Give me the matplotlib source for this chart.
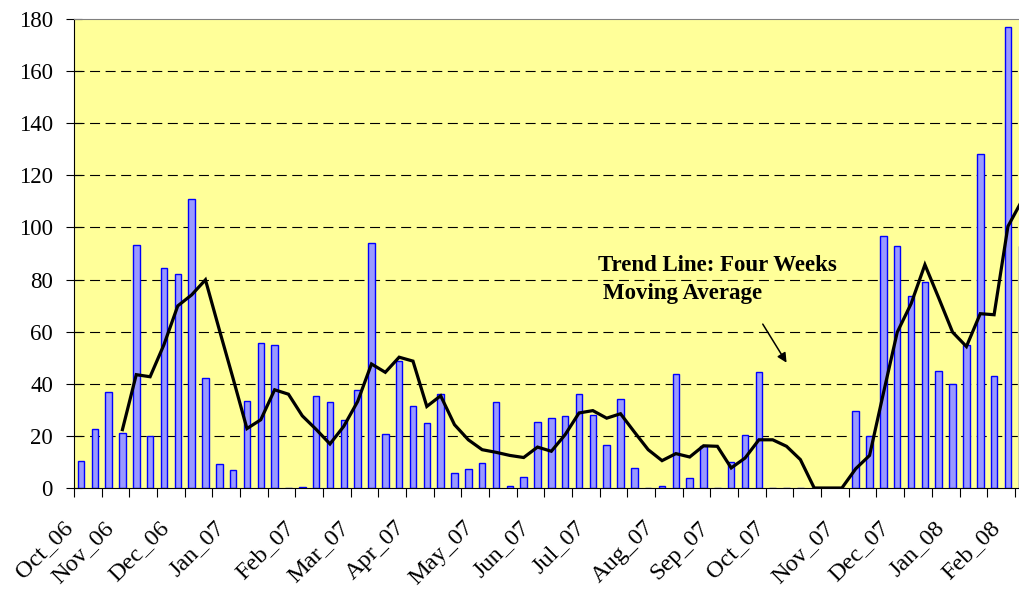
import numpy as np
import matplotlib
matplotlib.use("Agg")
import matplotlib.pyplot as plt
import matplotlib.transforms as mtransforms

plt.rcParams['font.family'] = ['Liberation Serif', 'DejaVu Serif']

# weekly counts, Oct_06 -> Feb_08 (last one is cut off by the plot edge)
weekly = [10.2, 22.8, 36.8, 21.3, 93.1, 20.1, 84.4, 82.1, 110.8, 42.1,
          9.2, 6.8, 33.2, 55.6, 55.0, 0, 0.3, 35.5, 32.9, 26.2,
          37.5, 94.2, 20.6, 48.7, 31.3, 24.9, 36.1, 5.8, 7.3, 9.5,
          33.0, 0.9, 4.1, 25.2, 26.8, 27.7, 35.9, 28.0, 16.4, 34.1,
          7.8, 0, 0.8, 43.6, 3.8, 16.2, 0, 10.0, 20.2, 44.4,
          0, 0, 0, 0, 0, 0, 29.7, 19.8, 96.8, 92.9,
          73.8, 79.0, 45.0, 39.9, 54.7, 128.1, 43.1, 176.8, 92.7]

# four weeks moving average, starts at the 4th week
trend_start = 3
trend = [22.4, 43.5, 42.7, 55.0, 69.9, 74.1, 79.9, 60.8, 42.0, 22.8,
         26.2, 37.7, 36.0, 27.7, 22.5, 16.9, 23.7, 33.2, 47.6, 44.4,
         50.2, 48.7, 31.3, 35.4, 24.3, 18.5, 14.7, 13.7, 12.5, 11.7,
         15.7, 14.1, 20.5, 28.8, 29.7, 26.8, 28.5, 21.5, 14.7, 10.5,
         13.2, 11.9, 16.2, 16.0, 7.7, 11.5, 18.5, 18.5, 16.0, 10.9,
         0, 0, 0, 7.4, 12.5, 36.4, 59.8, 70.7, 85.7, 72.9,
         59.8, 54.3, 66.9, 66.5, 100.4, 110.2]

month_pos = [0, 3, 7, 11, 16, 20, 24, 29, 33, 37, 42, 46, 50, 55, 59, 63, 67]
month_labels = ['Oct_06', 'Nov_06', 'Dec_06', 'Jan_07', 'Feb_07', 'Mar_07',
                'Apr_07', 'May_07', 'Jun_07', 'Jul_07', 'Aug_07', 'Sep_07',
                'Oct_07', 'Nov_07', 'Dec_07', 'Jan_08', 'Feb_08']

fig = plt.figure(figsize=(10.19, 5.89), dpi=100)
ax = fig.add_axes([74 / 1019, 101 / 589, 945 / 1019, 469 / 589])
ax.set_facecolor('#FFFF99')

x = np.arange(len(weekly))
ax.bar(x, weekly, width=0.47, color='#9999FF', edgecolor='#0000FF',
       linewidth=1, zorder=2)
ax.plot(np.arange(trend_start, trend_start + len(trend)), trend,
        color='black', lw=2.3, zorder=3, solid_joinstyle='miter')

ax.set_xlim(-0.5, 67.8)
ax.set_ylim(0, 180)

# grid lines
for g in range(20, 180, 20):
    ax.axhline(g, color='black', lw=0.8, linestyle=(0, (9, 5)), zorder=1)

# spines
ax.spines['right'].set_visible(False)
ax.spines['top'].set_color('#808080')
ax.spines['left'].set_color('black')
ax.spines['bottom'].set_color('black')

# y axis
ax.set_yticks(range(0, 181, 20))
ax.tick_params(axis='y', direction='inout', length=11.5, width=0.8,
               pad=9.4, labelsize=16.5)

# x axis: marks every two weeks, labels at month starts
ax.set_xticks(np.arange(-0.5, 68, 2), minor=True)
ax.tick_params(axis='x', which='minor', direction='out', length=6.5, width=0.8)
ax.set_xticks(month_pos)
ax.set_xticklabels(month_labels, rotation=45, ha='right', va='top',
                   rotation_mode='anchor', fontsize=17.5)
ax.tick_params(axis='x', which='major', length=0, pad=21.0)
offset = mtransforms.ScaledTranslation(-19 / 100, 0, fig.dpi_scale_trans)
for lbl in ax.xaxis.get_majorticklabels():
    lbl.set_transform(lbl.get_transform() + offset)

# annotation
ax.text(37.37, 83.4, 'Trend Line: Four Weeks', fontsize=16.5,
        fontweight='bold', va='baseline', ha='left', zorder=4)
ax.text(37.73, 72.4, 'Moving Average', fontsize=16.5,
        fontweight='bold', va='baseline', ha='left', zorder=4)
ax.annotate('', xy=(51.0, 48.1), xytext=(49.28, 62.9),
            arrowprops=dict(arrowstyle='-|>', color='black', lw=1.1,
                            mutation_scale=14, shrinkA=0, shrinkB=0))

fig.savefig('out.png', dpi=100, facecolor='white')
